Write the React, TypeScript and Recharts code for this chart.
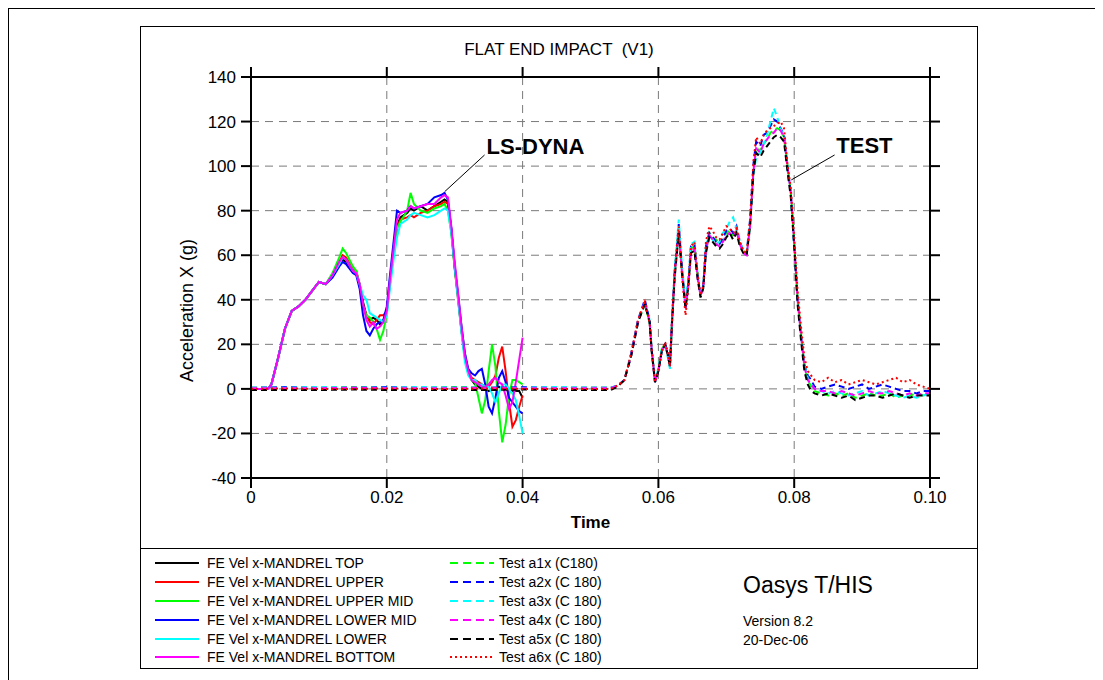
import React from "react";
import {
  LineChart,
  Line,
  XAxis,
  YAxis,
  CartesianGrid,
  ReferenceLine,
  ReferenceDot,
  Label,
} from "recharts";

const FONT = '"Liberation Sans", Arial, Helvetica, sans-serif';

// FE (LS-DYNA) curves, time in ms
const feTimeMs = [
  0, 2.5, 3, 4, 5, 6, 7, 8, 9, 10,
  11, 12, 13, 13.5, 14, 15, 15.5, 16, 16.5, 17,
  17.5, 18, 18.5, 19, 19.5, 20, 20.5, 21, 21.5, 22,
  23, 23.5, 24, 25, 26, 27, 28, 28.5, 29, 29.5,
  30, 30.5, 31, 31.5, 32, 32.5, 33, 33.5, 34, 34.5,
  35, 35.5, 36, 36.5, 37, 37.5, 38, 38.5, 39, 39.5, 40,
];
const feTop = [
  0, 0, 2, 14, 27, 35, 37, 40, 44, 48,
  47, 51, 56, 58, 57, 53, 52, 47, 39, 33,
  31, 32, 31, 29, 30, 35, 48, 62, 73, 77,
  79, 81, 80, 82, 80, 82, 84, 85, 84, 72,
  55, 41, 26, 14, 7, 4, 2, 1, 0, 0,
  -1, 0, 0, 1, 0, 0, 0, -1, -1, -1, -4,
];
const feUpper = [
  0, 0, 2, 14, 27, 35, 37, 40, 44, 48,
  47, 51, 57, 60, 59, 54, 53, 47, 38, 33,
  30, 29, 31, 33, 33, 35, 49, 62, 72, 76,
  77, 78, 77, 79, 80, 82, 83, 84, 83, 71,
  54, 40, 26, 15, 8, 5, 4, 3, 2, 1,
  1, 3, 6, 14, 19, 8, -6, -17, -14, -8, -3,
];
const feUpperMid = [
  0, 0, 2, 14, 27, 35, 37, 40, 44, 48,
  47, 52, 59, 63, 61, 55, 53, 46, 37, 33,
  32, 30, 27, 22, 26, 34, 50, 63, 72, 75,
  80, 88, 83, 80, 79, 81, 82, 83, 80, 70,
  54, 42, 28, 16, 8, 4, 3, -4, -11, -5,
  8, 20, 10, -10, -24, -16, -3, 4, 4, 3, 2,
];
const feLowerMid = [
  0, 0, 2, 14, 27, 35, 37, 40, 44, 48,
  47, 50, 55, 57, 56, 52, 51, 45, 33, 26,
  24, 27, 29, 30, 31, 37, 52, 66, 80, 79,
  80, 82, 81, 82, 83, 86, 87, 88, 85, 72,
  55, 42, 28, 16, 9, 7, 6, 8, 9, 2,
  -8, -11, -4, 5, 8, 3, -4, -6, -8, -10, -11,
];
const feLower = [
  0, 0, 2, 14, 27, 35, 37, 40, 44, 48,
  47, 51, 56, 59, 58, 53, 52, 47, 42, 40,
  34, 33, 32, 31, 30, 33, 46, 58, 68, 74,
  76, 78, 79, 78, 77, 78, 80, 81, 80, 70,
  55, 40, 25, 12, 6, 4, 4, 2, 2, 1,
  1, -2, -6, -2, 2, 2, 0, -2, -5, -12, -20,
];
const feBottom = [
  0, 0, 2, 14, 27, 35, 37, 40, 44, 48,
  47, 51, 57, 59, 58, 53, 52, 47, 38, 31,
  28, 30, 27, 28, 30, 35, 50, 63, 76, 79,
  80, 82, 81, 82, 83, 83, 86, 87, 86, 73,
  57, 43, 28, 15, 8, 4, 3, 2, 1, 1,
  2, 4, 5, 3, 2, -3, -9, -6, 3, 13, 23,
];

// Test curves, time in ms
const testTimeMs = [
  0, 5, 10, 15, 20, 25, 30, 35, 40, 45, 50, 53,
  54, 55, 56, 57, 58, 58.7, 59, 59.5, 60, 60.5,
  61, 61.4, 61.7, 62, 62.4, 63, 63.5, 64, 64.4, 64.8,
  65.3, 65.8, 66.2, 66.6, 67, 67.5, 68, 68.5, 69, 69.5,
  70, 70.5, 71, 71.5, 72, 72.5, 73, 73.5, 74, 74.4,
  75, 75.5, 76, 76.5, 77, 77.5, 78, 78.5, 79, 79.5,
  80, 80.5, 81, 81.5, 82, 82.5,
  83, 84, 85, 86, 87, 88, 89, 90, 91, 92, 93, 94, 95, 96, 97, 98, 99, 100,
];
const testA1 = [
  0.5, 0.5, 0.5, 0.8, 0.5, 0.5, 0.8, 0.5, 0.5, 0.5, 0.5, 0.5,
  1.5, 4, 15, 30, 38, 30, 18, 4, 9, 18,
  20, 15, 10, 30, 52, 71, 52, 37, 47, 63,
  64, 50, 43, 46, 62, 70, 68, 67, 65, 67,
  70, 71, 69, 71, 65, 62, 61, 74, 98, 108,
  107, 110, 112, 115, 116, 117, 116, 113, 101, 88,
  66, 41, 25, 10, 4, 1,
  -1, -2, -3, -2, -3, -2, -4, -3, -2, -3, -3, -2, -4, -3, -3, -2, -3, -2,
];
const testA2 = [
  0.5, 0.8, 0.5, 0.5, 0.8, 0.5, 0.5, 0.5, 0.8, 0.5, 0.5, 0.5,
  1.5, 4, 16, 31, 40, 31, 18, 3, 8, 17,
  20, 16, 11, 30, 53, 74, 53, 37, 48, 64,
  65, 50, 42, 46, 64, 70, 68, 66, 65, 68,
  71, 72, 70, 73, 66, 62, 61, 76, 101, 111,
  109, 114, 115, 118, 121, 120, 117, 114, 100, 88,
  65, 40, 24, 11, 6, 4,
  1, 0, 1, 2, 1, 0, 1, 2, 0, 1, 2, 1, 0, -1, -1, -2, -1, -1,
];
const testA3 = [
  0.5, 0.5, 0.8, 0.5, 0.5, 0.8, 0.5, 0.5, 0.5, 0.8, 0.5, 0.5,
  1.5, 4, 15, 30, 39, 31, 19, 4, 9, 18,
  19, 14, 9, 31, 54, 76, 54, 38, 48, 65,
  66, 51, 42, 47, 64, 69, 67, 65, 66, 70,
  72, 75, 77, 72, 66, 62, 61, 74, 96, 104,
  106, 110, 114, 120, 126, 122, 117, 113, 99, 87,
  64, 40, 24, 11, 5, 2,
  0, -1, -2, -1, -2, -3, -2, -1, -3, -2, -1, -2, -3, -4, -3, -4, -3, -2,
];
const testA4 = [
  0.3, 0.3, 0.3, 0.5, 0.3, 0.3, 0.3, 0.5, 0.3, 0.3, 0.3, 0.3,
  1.5, 4, 15, 30, 39, 30, 18, 3, 8, 17,
  20, 15, 10, 30, 51, 70, 51, 36, 46, 62,
  63, 49, 42, 45, 62, 69, 67, 65, 64, 66,
  69, 70, 68, 71, 65, 61, 60, 73, 98, 108,
  106, 110, 112, 114, 115, 117, 116, 113, 100, 88,
  65, 40, 24, 10, 4, 2,
  0, -1, -1, -2, -1, -2, -3, -2, -1, -2, -2, -1, -2, -3, -2, -3, -2, -2,
];
const testA5 = [
  -0.5, -0.5, -0.5, -0.3, -0.5, -0.5, -0.5, -0.5, -0.3, -0.5, -0.5, -0.5,
  1, 4, 15, 30, 38, 30, 17, 3, 8, 17,
  20, 15, 10, 29, 50, 70, 51, 36, 46, 61,
  62, 49, 41, 45, 61, 68, 66, 64, 63, 65,
  68, 70, 67, 70, 64, 61, 60, 73, 97, 106,
  104, 107, 109, 111, 113, 114, 113, 111, 98, 86,
  64, 38, 22, 8, 2, -1,
  -2, -3, -2, -3, -4, -3, -5, -4, -3, -3, -4, -3, -2, -3, -4, -3, -3, -3,
];
const testA6 = [
  0, 0.2, 0, 0, 0.2, 0, 0, 0.2, 0, 0, 0, 0,
  1.5, 4, 16, 31, 39, 30, 18, 3, 8, 17,
  21, 16, 10, 31, 53, 73, 50, 33, 46, 64,
  66, 51, 42, 46, 66, 73, 71, 68, 67, 70,
  73, 72, 70, 72, 66, 62, 61, 76, 102, 113,
  110, 114, 116, 117, 118, 119, 120, 117, 101, 90,
  68, 44, 28, 14, 8, 6,
  4, 3, 5, 3, 4, 2, 3, 4, 3, 2, 3, 4, 5, 3, 4, 2, 1, 0,
];

const xTicks = [0, 0.02, 0.04, 0.06, 0.08, 0.1];
const yTicks = [-40, -20, 0, 20, 40, 60, 80, 100, 120, 140];

const feSeries = [
  { key: "top", name: "FE Vel x-MANDREL TOP", color: "#000000" },
  { key: "upper", name: "FE Vel x-MANDREL UPPER", color: "#ff0000" },
  { key: "upperMid", name: "FE Vel x-MANDREL UPPER MID", color: "#00ff00" },
  { key: "lowerMid", name: "FE Vel x-MANDREL LOWER MID", color: "#0000ff" },
  { key: "lower", name: "FE Vel x-MANDREL LOWER", color: "#00ffff" },
  { key: "bottom", name: "FE Vel x-MANDREL BOTTOM", color: "#ff00ff" },
];
const testSeries = [
  { key: "a1", name: "Test a1x (C180)", color: "#00ff00", dash: "6 4" },
  { key: "a2", name: "Test a2x (C 180)", color: "#0000ff", dash: "6 4" },
  { key: "a3", name: "Test a3x (C 180)", color: "#00ffff", dash: "6 4" },
  { key: "a4", name: "Test a4x (C 180)", color: "#ff00ff", dash: "6 4" },
  { key: "a5", name: "Test a5x (C 180)", color: "#000000", dash: "6 4" },
  { key: "a6", name: "Test a6x (C 180)", color: "#ff0000", dash: "2 3" },
];

const feData = feTimeMs.map((ms, i) => ({
  t: ms / 1000,
  top: feTop[i],
  upper: feUpper[i],
  upperMid: feUpperMid[i],
  lowerMid: feLowerMid[i],
  lower: feLower[i],
  bottom: feBottom[i],
}));
const testData = testTimeMs.map((ms, i) => ({
  t: ms / 1000,
  a1: testA1[i],
  a2: testA2[i],
  a3: testA3[i],
  a4: testA4[i],
  a5: testA5[i],
  a6: testA6[i],
}));

// annotation pointers (data coordinates)
const dynaPointer = [{ x: 0.02855, y: 88.6 }, { x: 0.0344, y: 105 }];
const dynaText = { x: 0.0347, y: 105.5 };
const testPointer = [{ x: 0.07957, y: 93.8 }, { x: 0.08595, y: 105 }];
const testText = { x: 0.0862, y: 105.8 };

const axisLine = { stroke: "#000", strokeWidth: 2 };
const tickStyle = { fill: "#000", fontSize: 17, fontFamily: FONT };
const noTick = () => <g />;

const YLabel = (props: any) => {
  const vb = props.viewBox || { x: 0, y: 51, width: 111, height: 401 };
  const cx = vb.x + 47;
  const cy = vb.y + vb.height / 2 + 33;
  return (
    <text
      x={cx}
      y={cy}
      transform={`rotate(-90 ${cx} ${cy})`}
      textAnchor="middle"
      dominantBaseline="central"
      fontSize={18}
      fontFamily={FONT}
      fill="#000"
    >
      Acceleration X (g)
    </text>
  );
};

const XLabel = (props: any) => {
  const vb = props.viewBox || { x: 111, y: 452, width: 679, height: 68 };
  return (
    <text
      x={vb.x + vb.width / 2}
      y={vb.y + 44}
      textAnchor="middle"
      dominantBaseline="central"
      fontSize={17}
      fontWeight="bold"
      fontFamily={FONT}
      fill="#000"
    >
      Time
    </text>
  );
};

const bigText = (label: string) => (p: any) => (
  <text x={p.cx} y={p.cy} fontSize={22} fontWeight="bold" fontFamily={FONT} fill="#000">
    {label}
  </text>
);

const Sample = ({ color, dash }: { color: string; dash?: string }) => (
  <svg width={44} height={6} style={{ display: "block" }}>
    <line x1={0} y1={3} x2={44} y2={3} stroke={color} strokeWidth={2} strokeDasharray={dash} />
  </svg>
);

export default function App() {
  const rowTop = 554 - 8;
  const rowH = 18.8;
  return (
    <div style={{ position: "relative", width: 1095, height: 672, fontFamily: FONT }}>
      <div
        style={{
          position: "absolute",
          left: -1,
          top: -1,
          width: 1100,
          height: 680,
          borderTop: "2px solid #000",
          borderLeft: "2px solid #000",
          boxSizing: "border-box",
        }}
      />
      <div
        style={{
          position: "absolute",
          left: 132,
          top: 18,
          width: 838,
          height: 643,
          border: "1px solid #000",
          boxSizing: "border-box",
        }}
      />
      <div
        style={{
          position: "absolute",
          left: 132,
          top: 548 - 8,
          width: 838,
          height: 1,
          background: "#000",
        }}
      />
      <div
        style={{
          position: "absolute",
          left: 132,
          top: 30,
          width: 838,
          textAlign: "center",
          fontSize: 17,
          lineHeight: "24px",
          color: "#000",
          whiteSpace: "pre",
        }}
      >
        FLAT END IMPACT  (V1)
      </div>

      <div style={{ position: "absolute", left: 132, top: 18 }}>
        <LineChart width={837} height={520} margin={{ top: 0, right: 0, bottom: 0, left: 0 }}>
          <CartesianGrid stroke="#7a7a7a" strokeDasharray="8 6" strokeWidth={1} />
          <XAxis
            dataKey="t"
            type="number"
            domain={[0, 0.1]}
            ticks={xTicks}
            interval={0}
            height={68}
            tickSize={10}
            tickMargin={3}
            axisLine={axisLine}
            tickLine={axisLine}
            tick={tickStyle}
            tickFormatter={(v: number) => (v === 0 ? "0" : v.toFixed(2))}
            allowDataOverflow
          >
            <Label content={XLabel} />
          </XAxis>
          <XAxis
            xAxisId="top"
            orientation="top"
            dataKey="t"
            type="number"
            domain={[0, 0.1]}
            ticks={xTicks}
            interval={0}
            height={51}
            tickSize={10}
            axisLine={axisLine}
            tickLine={axisLine}
            tick={noTick}
            allowDataOverflow
          />
          <YAxis
            type="number"
            domain={[-40, 140]}
            ticks={yTicks}
            interval={0}
            width={111}
            tickSize={10}
            tickMargin={5}
            axisLine={axisLine}
            tickLine={axisLine}
            tick={tickStyle}
            allowDataOverflow
          >
            <Label content={YLabel} />
          </YAxis>
          <YAxis
            yAxisId="right"
            orientation="right"
            type="number"
            domain={[-40, 140]}
            ticks={yTicks}
            interval={0}
            width={47}
            tickSize={10}
            axisLine={axisLine}
            tickLine={axisLine}
            tick={noTick}
            allowDataOverflow
          />
          {feSeries.map((s) => (
            <Line
              key={s.key}
              data={feData}
              dataKey={s.key}
              type="linear"
              stroke={s.color}
              strokeWidth={2}
              dot={false}
              isAnimationActive={false}
            />
          ))}
          {testSeries.map((s) => (
            <Line
              key={s.key}
              data={testData}
              dataKey={s.key}
              type="linear"
              stroke={s.color}
              strokeWidth={2}
              strokeDasharray={s.dash}
              dot={false}
              isAnimationActive={false}
            />
          ))}
          <Line
            xAxisId="top"
            yAxisId="right"
            data={testData}
            dataKey="a1"
            stroke="none"
            dot={false}
            legendType="none"
            isAnimationActive={false}
          />
          <ReferenceLine segment={dynaPointer} stroke="#000" strokeWidth={1} />
          <ReferenceLine segment={testPointer} stroke="#000" strokeWidth={1} />
          <ReferenceDot x={dynaText.x} y={dynaText.y} r={0} shape={bigText("LS-DYNA")} />
          <ReferenceDot x={testText.x} y={testText.y} r={0} shape={bigText("TEST")} />
        </LineChart>
      </div>

      {feSeries.map((s, i) => (
        <div
          key={s.key}
          style={{
            position: "absolute",
            left: 155 - 8,
            top: rowTop + i * rowH,
            height: rowH,
            display: "flex",
            alignItems: "center",
            fontSize: 14,
            color: "#000",
            whiteSpace: "pre",
          }}
        >
          <Sample color={s.color} />
          <span style={{ marginLeft: 8 }}>{s.name}</span>
        </div>
      ))}
      {testSeries.map((s, i) => (
        <div
          key={s.key}
          style={{
            position: "absolute",
            left: 450 - 8,
            top: rowTop + i * rowH,
            height: rowH,
            display: "flex",
            alignItems: "center",
            fontSize: 14,
            color: "#000",
            whiteSpace: "pre",
          }}
        >
          <Sample color={s.color} dash={s.key === "a6" ? "2 3" : "8 5"} />
          <span style={{ marginLeft: 5 }}>{s.name}</span>
        </div>
      ))}

      <div style={{ position: "absolute", left: 743 - 8, top: 572 - 8, fontSize: 23, lineHeight: "26px", color: "#000" }}>
        Oasys T/HIS
      </div>
      <div style={{ position: "absolute", left: 743 - 8, top: 612 - 8, fontSize: 14, lineHeight: "18.5px", color: "#000" }}>
        <div>Version 8.2</div>
        <div>20-Dec-06</div>
      </div>
    </div>
  );
}
